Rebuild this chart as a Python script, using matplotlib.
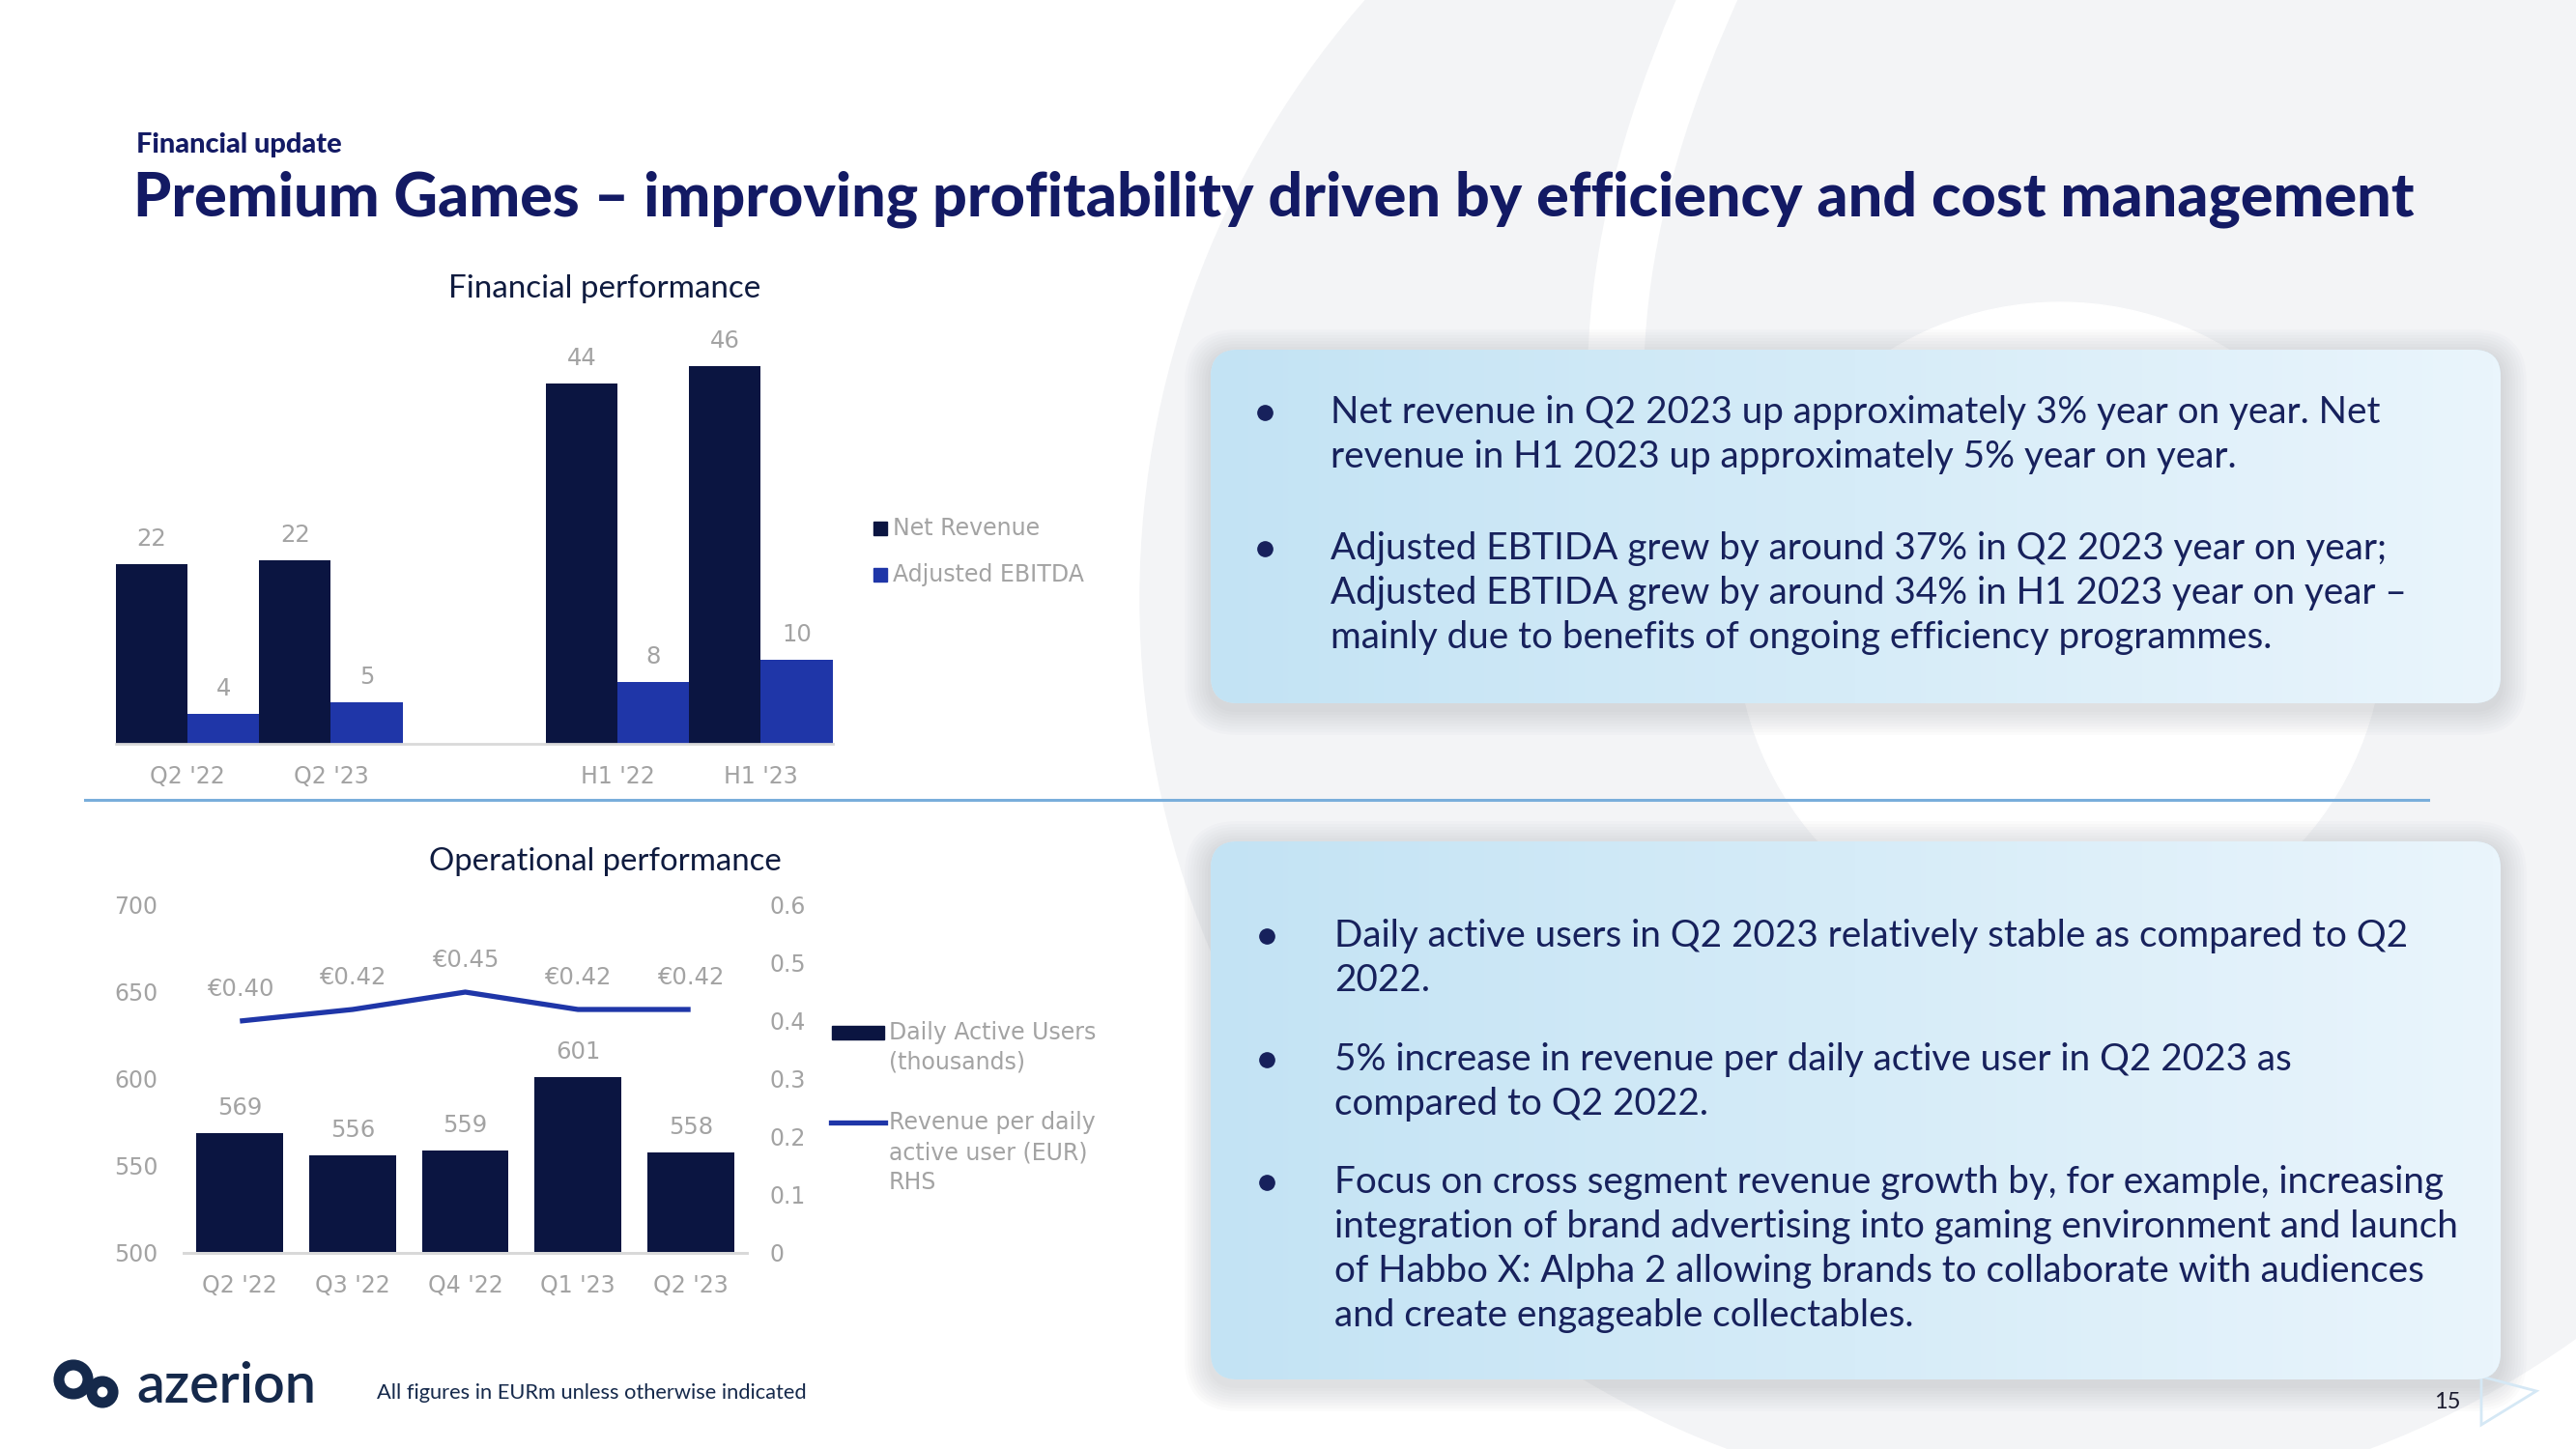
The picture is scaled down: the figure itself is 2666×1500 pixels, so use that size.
import matplotlib
matplotlib.use("Agg")
import matplotlib.pyplot as plt
import numpy as np
from matplotlib.patches import Circle, FancyBboxPatch, Rectangle, Polygon, PathPatch
from matplotlib.path import Path

W, H = 2666, 1500

# ---- data ----
fin_periods = ["Q2 '22", "Q2 '23", "H1 '22", "H1 '23"]
net_revenue = [21.9, 22.4, 43.9, 46.0]
adj_ebitda = [3.7, 5.1, 7.5, 10.2]
fin_series = ["Net Revenue", "Adjusted EBITDA"]

op_quarters = ["Q2 '22", "Q3 '22", "Q4 '22", "Q1 '23", "Q2 '23"]
dau = [569, 556, 559, 601, 558]
rev_per_dau = [0.40, 0.42, 0.45, 0.42, 0.42]
op_series = ["Daily Active Users\n(thousands)", "Revenue per daily\nactive user (EUR)\nRHS"]
dau_ticks = [500, 550, 600, 650, 700]
rpu_ticks = [0, 0.1, 0.2, 0.3, 0.4, 0.5, 0.6]

kicker = "Financial update"
title = "Premium Games \u2013 improving profitability driven by efficiency and cost management"
fin_title = "Financial performance"
op_title = "Operational performance"
footnote = "All figures in EURm unless otherwise indicated"
page_no = "15"

box1_bullets = [
    ["Net revenue in Q2 2023 up approximately 3% year on year. Net",
     "revenue in H1 2023 up approximately 5% year on year."],
    ["Adjusted EBTIDA grew by around 37% in Q2 2023 year on year;",
     "Adjusted EBTIDA grew by around 34% in H1 2023 year on year \u2013",
     "mainly due to benefits of ongoing efficiency programmes."],
]
box2_bullets = [
    ["Daily active users in Q2 2023 relatively stable as compared to Q2",
     "2022."],
    ["5% increase in revenue per daily active user in Q2 2023 as",
     "compared to Q2 2022."],
    ["Focus on cross segment revenue growth by, for example, increasing",
     "integration of brand advertising into gaming environment and launch",
     "of Habbo X: Alpha 2 allowing brands to collaborate with audiences",
     "and create engageable collectables."],
]

# ---- style ----
NAVY = "#0b1541"
BLUE = "#1f36a8"
GREY = "#a3a3a3"
INK = "#131a64"
BODY = "#17215c"
DARK = "#0f1b3f"
plt.rcParams["font.family"] = ["DejaVu Sans"]

fig = plt.figure(figsize=(W / 100, H / 100), dpi=100)
fig.patch.set_facecolor("white")
renderer = fig.canvas.get_renderer()


def px_axes(left, top, right, bottom, **kw):
    return fig.add_axes([left / W, 1 - bottom / H, (right - left) / W, (bottom - top) / H], **kw)


def fit_width(t, target):
    w = t.get_window_extent(renderer).width
    t.set_fontsize(t.get_fontsize() * target / w)
    return t.get_fontsize()


# background canvas in pixel units (y down)
bg = px_axes(0, 0, W, H)
bg.set_xlim(0, W)
bg.set_ylim(H, 0)
bg.axis("off")

# faint oversized logo ring behind the slide
bg.add_patch(Circle((2120, 620), 940, color="#f3f4f6", zorder=0))
bg.add_patch(Circle((2132, 648), 335, color="white", zorder=0.4))
band = Path([(1780, -30), (1600, 350), (1720, 650)], [Path.MOVETO, Path.CURVE3, Path.CURVE3])
bg.add_patch(PathPatch(band, fill=False, ec="white", lw=42, capstyle="butt", zorder=0.5))

# titles
t = bg.text(141, 150, kicker, ha="left", va="center", family="Lato", weight="black",
            fontsize=18, color=INK)
fit_width(t, 213)
t = bg.text(138, 206, title, ha="left", va="center", family="Lato", weight="black",
            fontsize=40, color=INK)
fit_width(t, 2360)

for txt, y, wd in [(fin_title, 299, 323), (op_title, 892, 365)]:
    t = bg.text(626, y, txt, ha="center", va="center", family="Lato", fontsize=19, color=DARK)
    fit_width(t, wd)

# divider
bg.plot([88, 2513], [828, 828], color="#79aedb", lw=2.2, zorder=1)


# ---- text boxes ----
def draw_box(x, y, w, h):
    for k in range(1, 10):
        bg.add_patch(FancyBboxPatch((x - 3 * k, y - 3 * k + 6), w + 6 * k, h + 6 * k,
                                    boxstyle=f"round,pad=0,rounding_size={28 + 3 * k}",
                                    fc="#6d7178", ec="none", alpha=0.024, zorder=1))
    box = FancyBboxPatch((x, y), w, h, boxstyle="round,pad=0,rounding_size=28",
                         fc="#d6ecf8", ec="none", zorder=2)
    bg.add_patch(box)
    grad = np.linspace(0, 1, 256).reshape(1, -1)
    cmap = matplotlib.colors.LinearSegmentedColormap.from_list("g", ["#c3e3f4", "#d6ecf8", "#eaf5fc"])
    im = bg.imshow(grad, extent=(x, x + w, y + h, y), cmap=cmap, aspect="auto",
                   interpolation="bilinear", zorder=2.5)
    im.set_clip_path(box)


draw_box(1253, 362, 1335, 366)
draw_box(1253, 871, 1335, 557)
bg.set_xlim(0, W)
bg.set_ylim(H, 0)

probe = bg.text(0, -100, "integration of brand advertising into gaming environment and launch",
                family="Lato", fontsize=24)
body_size = fit_width(probe, 1163)
probe.remove()


def draw_bullets(bullets, starts, dot_x, text_x):
    for lines, y0 in zip(bullets, starts):
        bg.plot(dot_x, y0, "o", ms=11, color=BODY, zorder=5)
        for i, line in enumerate(lines):
            bg.text(text_x, y0 + 46 * i, line, ha="left", va="center", family="Lato",
                    fontsize=body_size, color=BODY, zorder=5)


draw_bullets(box1_bullets, [427, 568], 1309, 1377)
draw_bullets(box2_bullets, [969, 1097, 1224], 1311, 1381)

# ---- financial performance chart ----
ax1 = px_axes(120, 345, 861.5, 770)
ax1.patch.set_alpha(0)
xpos = np.array([0, 1, 3, 4])
b1 = ax1.bar(xpos - 0.25, net_revenue, 0.5, color=NAVY, label=fin_series[0])
b2 = ax1.bar(xpos + 0.25, adj_ebitda, 0.5, color=BLUE, label=fin_series[1])
for bars, vals in [(b1, net_revenue), (b2, adj_ebitda)]:
    ax1.bar_label(bars, labels=[f"{v:.0f}" for v in vals], padding=10, fontsize=17.5, color=GREY)
ax1.set_xlim(-0.5, 4.5)
ax1.set_ylim(0, 50)
ax1.set_xticks(xpos)
ax1.set_xticklabels(fin_periods)
ax1.set_yticks([])
ax1.tick_params(axis="x", length=0, pad=16, labelsize=17, labelcolor=GREY)
for s in ["top", "left", "right"]:
    ax1.spines[s].set_visible(False)
ax1.spines["bottom"].set_color("#d9d9d9")
ax1.spines["bottom"].set_linewidth(2)

for i, (name, col) in enumerate(zip(fin_series, [NAVY, BLUE])):
    y = 547 + 48 * i
    bg.add_patch(Rectangle((904, y - 7), 14, 14, color=col, zorder=5))
    bg.text(924, y, name, ha="left", va="center", fontsize=17, color=GREY, zorder=5)

# ---- operational performance chart ----
ax2 = px_axes(190, 937, 773, 1297)
ax2.patch.set_alpha(0)
qx = np.arange(len(op_quarters))
b3 = ax2.bar(qx, dau, 0.77, color=NAVY)
ax2.bar_label(b3, labels=[str(v) for v in dau], padding=10, fontsize=17.5, color=GREY)
ax2.set_xlim(-0.5, 4.5)
ax2.set_ylim(500, 700)
ax2.set_yticks(dau_ticks)
ax2.set_xticks(qx)
ax2.set_xticklabels(op_quarters)
ax2.tick_params(axis="x", length=0, pad=16, labelsize=17, labelcolor=GREY)
ax2.tick_params(axis="y", length=0, pad=19, labelsize=17, labelcolor=GREY)

ax2r = ax2.twinx()
ax2r.plot(qx, rev_per_dau, color=BLUE, lw=3.8, solid_capstyle="butt")
for xi, v in zip(qx, rev_per_dau):
    ax2r.annotate(f"\u20ac{v:.2f}", (xi, v), xytext=(0, 24), textcoords="offset points",
                  ha="center", va="center", fontsize=17.5, color=GREY)
ax2r.set_ylim(0, 0.6)
ax2r.set_yticks(rpu_ticks)
ax2r.set_yticklabels([f"{v:g}" for v in rpu_ticks])
ax2r.tick_params(axis="y", length=0, pad=17, labelsize=17, labelcolor=GREY)
for a in (ax2, ax2r):
    for s in ["top", "left", "right"]:
        a.spines[s].set_visible(False)
    a.spines["bottom"].set_color("#d9d9d9")
    a.spines["bottom"].set_linewidth(2)

bg.add_patch(Rectangle((861, 1062), 54, 14, color=NAVY, zorder=5))
bg.plot([860, 916], [1162, 1162], color=BLUE, lw=3.8, zorder=5)
for name, y0 in zip(op_series, [1069, 1162]):
    for i, line in enumerate(name.split("\n")):
        bg.text(920, y0 + 31 * i, line, ha="left", va="center", fontsize=17, color=GREY, zorder=5)

# ---- footer ----
LOGO = "#15294b"
bg.add_patch(Circle((76, 1428), 15, fill=False, ec=LOGO, lw=8, zorder=5))
bg.add_patch(Circle((106, 1441), 11, fill=False, ec=LOGO, lw=8, zorder=5))
t = bg.text(141, 1452, "azerion", ha="left", va="baseline", family="Lato", weight="semibold",
            fontsize=40, color=LOGO)
fit_width(t, 186)
t = bg.text(390, 1442, footnote, ha="left", va="center", family="Lato", fontsize=14, color=LOGO)
fit_width(t, 448)
bg.text(2533, 1451, page_no, ha="center", va="center", family="Lato", fontsize=17, color="#1a1a2e")
bg.add_patch(Polygon([[2568, 1425], [2625, 1440], [2568, 1475]], closed=True, fill=False,
                     ec="#d5e8f5", lw=2, zorder=1))

fig.savefig("out.png", dpi=100)
